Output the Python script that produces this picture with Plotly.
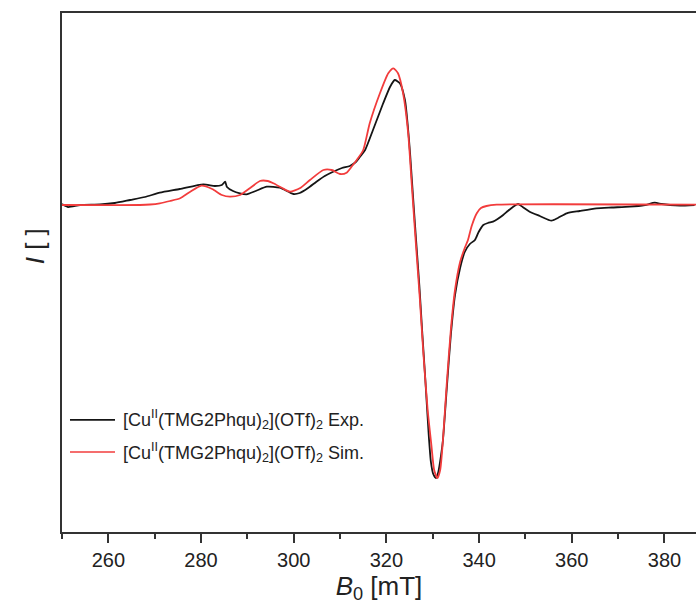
import plotly.graph_objects as go

# Experimental spectrum (field in mT, intensity in arbitrary units)
exp_B = [250.0, 251.3, 253.9, 258.2, 261.4, 264.7, 267.9, 271.1, 275.4, 280.5,
         283.0, 284.5, 285.2, 285.6, 286.9, 288.4, 289.8, 291.8, 294.2, 297.0,
         299.9, 301.3, 303.1, 304.9, 306.7, 308.5, 310.4, 312.1, 313.4, 314.3,
         315.4, 317.1, 319.3, 320.8, 321.8, 322.9, 324.0, 324.6, 325.1, 325.5,
         325.9, 326.4, 327.1, 327.7, 328.4, 329.1, 329.6, 330.1, 330.7, 331.2,
         331.8, 332.2, 333.0, 333.9, 334.8, 335.9, 336.9, 338.0, 339.1, 339.9,
         340.9, 341.9, 343.0, 344.0, 345.2, 346.2, 347.3, 348.4, 349.4, 350.9,
         353.1, 355.6, 357.0, 358.9, 361.7, 365.3, 368.6, 372.5, 375.8, 377.9,
         379.4, 381.2, 383.3, 386.5]
exp_I = [1, -2, 0, 0.5, 2, 5, 8, 12.3, 16, 20.7,
         19, 20, 23.3, 18, 14, 11.7, 10.7, 14, 18.3, 17.3,
         11, 12, 17, 23.3, 29, 33.3, 37, 39, 43, 48.3,
         55, 75, 101.7, 118.3, 125, 121.7, 105, 80, 52, 25,
         -2, -35, -80, -125, -175, -228, -257, -269, -273, -267,
         -250, -235, -185, -130, -90, -63, -47, -39, -35, -27,
         -20, -18, -16.7, -14, -10, -6, -2, 1, -2, -6.7,
         -11, -15.7, -13, -8.3, -6, -3.3, -2.5, -1.7, 0, 2.3,
         1, 0, -0.5, 0]

# Simulated spectrum
sim_B = [250.0, 266.8, 269.0, 271.1, 273.3, 275.5, 277.6, 280.1, 282.4, 284.5,
         286.2, 288.4, 290.6, 292.7, 294.4, 295.6, 297.5, 299.2, 301.3, 303.5,
         306.4, 308.2, 310.0, 311.4, 312.6, 313.6, 315.0, 316.4, 318.6, 320.4,
         321.5, 322.5, 323.6, 324.7, 325.4, 326.3, 327.2, 328.0, 328.9, 329.7,
         330.3, 331.0, 331.6, 332.2, 333.0, 333.9, 334.8, 335.9, 336.9, 337.6,
         338.4, 339.5, 340.4, 341.6, 343.8, 386.8]
sim_I = [0, 0, 0.5, 1.7, 4, 6.7, 13, 19.3, 16, 10,
         8.3, 10, 17, 24, 24, 21.7, 17, 13.3, 16.7, 25,
         35, 35, 31, 32.3, 39, 45, 55, 81.7, 111.7, 131.7,
         136.7, 131.7, 111.7, 71.7, 25, -35, -93, -150, -205, -240,
         -265, -273, -265, -235, -180, -125, -85, -57, -43, -35,
         -21, -8.3, -3, -1, 0.3, 0.3]

x_ticks = [260, 280, 300, 320, 340, 360, 380]
names = ["[Cu<sup>II</sup>(TMG2Phqu)<sub>2</sub>](OTf)<sub>2</sub> Exp.",
         "[Cu<sup>II</sup>(TMG2Phqu)<sub>2</sub>](OTf)<sub>2</sub> Sim."]
colors = ["#151515", "#f23c3c"]

fig = go.Figure()
fig.add_trace(go.Scatter(x=exp_B, y=exp_I, mode="lines", name=names[0], showlegend=False,
                         line=dict(color=colors[0], width=1.8, shape="spline", smoothing=0.6)))
fig.add_trace(go.Scatter(x=sim_B, y=sim_I, mode="lines", name=names[1], showlegend=False,
                         line=dict(color=colors[1], width=1.8, shape="spline", smoothing=0.6)))

font = "Liberation Sans, Arial, sans-serif"
# manual legend (line sample + label)
leg_y = [0.216, 0.154]
for name, col, yy in zip(names, colors, leg_y):
    fig.add_shape(type="line", xref="paper", yref="paper", x0=0.0126, x1=0.0836,
                  y0=yy, y1=yy, line=dict(color=col, width=1.6))
    fig.add_annotation(text=name, xref="paper", yref="paper", x=0.093, y=yy,
                       xanchor="left", yanchor="middle", showarrow=False,
                       font=dict(size=18, color="#222", family=font))

fig.add_annotation(text="<i>I</i> [ ]", xref="paper", yref="paper", x=-0.043, y=0.55,
                   textangle=-90, showarrow=False, xanchor="center", yanchor="middle",
                   font=dict(size=26, color="#222", family=font))

fig.update_layout(
    width=696, height=612,
    margin=dict(l=62, r=0, t=13, b=80),
    paper_bgcolor="white", plot_bgcolor="white",
    font=dict(family=font, color="#222", size=20),
    showlegend=False,
)
fig.update_xaxes(
    range=[250, 386.8], tickvals=x_ticks, ticks="outside", ticklen=9, tickwidth=1.5,
    tickcolor="#333", showline=True, linecolor="#333", linewidth=2, mirror=True,
    showgrid=False, zeroline=False, tickfont=dict(size=20),
    minor=dict(dtick=10, tick0=250, ticks="outside", ticklen=5, tickwidth=1.5, tickcolor="#333"),
    title=dict(text="<i>B</i><sub>0</sub> [mT]", font=dict(size=26), standoff=6),
)
fig.update_yaxes(
    range=[-327, 192], showticklabels=False, ticks="", showline=True, linecolor="#333",
    linewidth=2, mirror=False, showgrid=False, zeroline=False,
)
fig.write_html("out.html")
